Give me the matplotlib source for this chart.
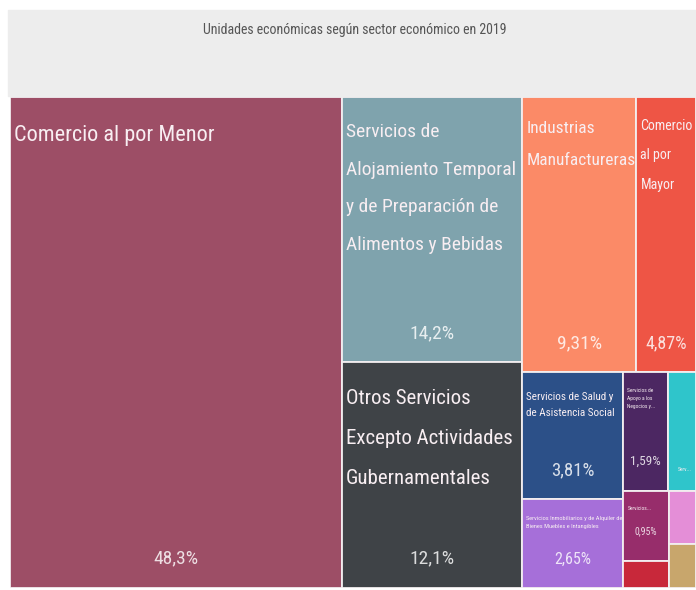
import matplotlib
matplotlib.use('Agg')
import matplotlib.pyplot as plt
from matplotlib import font_manager
from matplotlib.patches import Rectangle

# datos (porcentaje de unidades economicas por sector, 2019)
sectores = ['Comercio al por Menor',
            'Servicios de\nAlojamiento Temporal\ny de Preparación de\nAlimentos y Bebidas',
            'Otros Servicios\nExcepto Actividades\nGubernamentales',
            'Industrias\nManufactureras',
            'Comercio\nal por\nMayor',
            'Servicios de Salud y\nde Asistencia Social',
            'Servicios Inmobiliarios y de Alquiler de\nBienes Muebles e Intangibles',
            'Servicios de\nApoyo a los\nNegocios y...',
            'Serv...',
            'Servicios...',
            '', '', '']
porcentajes = [48.3, 14.2, 12.1, 9.31, 4.87, 3.81, 2.65, 1.59, 0.97, 0.95, 0.37, 0.43, 0.35]
mostrar_valor = [True, True, True, True, True, True, True, True, False, True, False, False, False]
nombre_abajo = [False] * 8 + [True] + [False] * 4
colores = ['#9d4e66', '#7fa3ad', '#3f4347', '#fb8a67', '#ee5545', '#2c5088', '#a66fd9',
           '#4c2762', '#2fc5cb', '#972d6b', '#c8283a', '#e48ed7', '#c8a66c']
tam_nombre = [16, 14, 15, 12.5, 10, 8, 4.6, 4, 4, 4, 0, 0, 0]
tam_valor = [14, 14, 14, 14, 13, 13.5, 11.5, 9.5, 0, 7, 0, 0, 0]
titulo = 'Unidades económicas según sector económico en 2019'

# fuente angosta si existe
disponibles = {f.name for f in font_manager.fontManager.ttflist}
fuente = 'DejaVu Sans'
for nombre in ['Liberation Sans Narrow', 'DejaVu Sans Condensed', 'Roboto Condensed', 'Open Sans Condensed']:
    if nombre in disponibles:
        fuente = nombre
        break
plt.rcParams['font.family'] = [fuente, 'DejaVu Sans']


def squarify(vals, x0, y0, x1, y1, ratio=1.618):
    # igual que d3.treemapSquarify
    rects = [None] * len(vals)
    n = len(vals)
    total = sum(vals)
    i0 = 0
    while i0 < n:
        dx, dy = x1 - x0, y1 - y0
        i1 = i0 + 1
        s = vals[i0]
        mn = mx = s
        alpha = max(dy / dx, dx / dy) / (total * ratio)
        beta = s * s * alpha
        mejor = max(mx / beta, beta / mn)
        while i1 < n:
            v = vals[i1]
            s2 = s + v
            mn2, mx2 = min(mn, v), max(mx, v)
            beta = s2 * s2 * alpha
            r = max(mx2 / beta, beta / mn2)
            if r > mejor:
                break
            s, mn, mx, mejor = s2, mn2, mx2, r
            i1 += 1
        if dx < dy:
            h = dy * s / total
            cx = x0
            for k in range(i0, i1):
                w = dx * vals[k] / s
                rects[k] = (cx, y0, w, h)
                cx += w
            y0 += h
        else:
            w = dx * s / total
            cy = y0
            for k in range(i0, i1):
                h = dy * vals[k] / s
                rects[k] = (x0, cy, w, h)
                cy += h
            x0 += w
        total -= s
        i0 = i1
    return rects


ANCHO = 2.2  # proporcion del grafico original
rects = squarify(porcentajes, 0, 0, ANCHO, 1)

fig = plt.figure(figsize=(6.96, 5.90), dpi=100)
fig.patches.append(Rectangle((8 / 696, 494 / 590), 688 / 696, 86 / 590,
                             transform=fig.transFigure, color='#ededed', zorder=0))
fig.text(355 / 696, 1 - 30 / 590, titulo, ha='center', va='center', fontsize=10, color='#555555')

ax = fig.add_axes([10 / 696, 2 / 590, 686 / 696, 491 / 590])
ax.set_xlim(0, ANCHO)
ax.set_ylim(1, 0)
ax.axis('off')

for i, (x, y, w, h) in enumerate(rects):
    ax.add_patch(Rectangle((x, y), w, h, facecolor=colores[i], edgecolor='#f3eef0', linewidth=1.3))
    fs = tam_nombre[i]
    if sectores[i] and not nombre_abajo[i]:
        ax.annotate(sectores[i], xy=(x, y), xytext=(3, -(8 + 0.77 * fs)), textcoords='offset points',
                    ha='left', va='top', fontsize=fs, color='#f8eef2',
                    linespacing=2.4 if fs >= 10 else 1.8)
    if nombre_abajo[i]:
        ax.annotate(sectores[i], xy=(x + w / 2, y + h), xytext=(2, 15), textcoords='offset points',
                    ha='center', va='center', fontsize=fs, color='#f8eef2')
    if mostrar_valor[i]:
        txt = f'{porcentajes[i]:g}'.replace('.', ',') + '%'
        ax.annotate(txt, xy=(x + w / 2, y + h), xytext=(0, 21), textcoords='offset points',
                    ha='center', va='center', fontsize=tam_valor[i], color='white', alpha=0.82)

fig.savefig('out.png', dpi=100)
